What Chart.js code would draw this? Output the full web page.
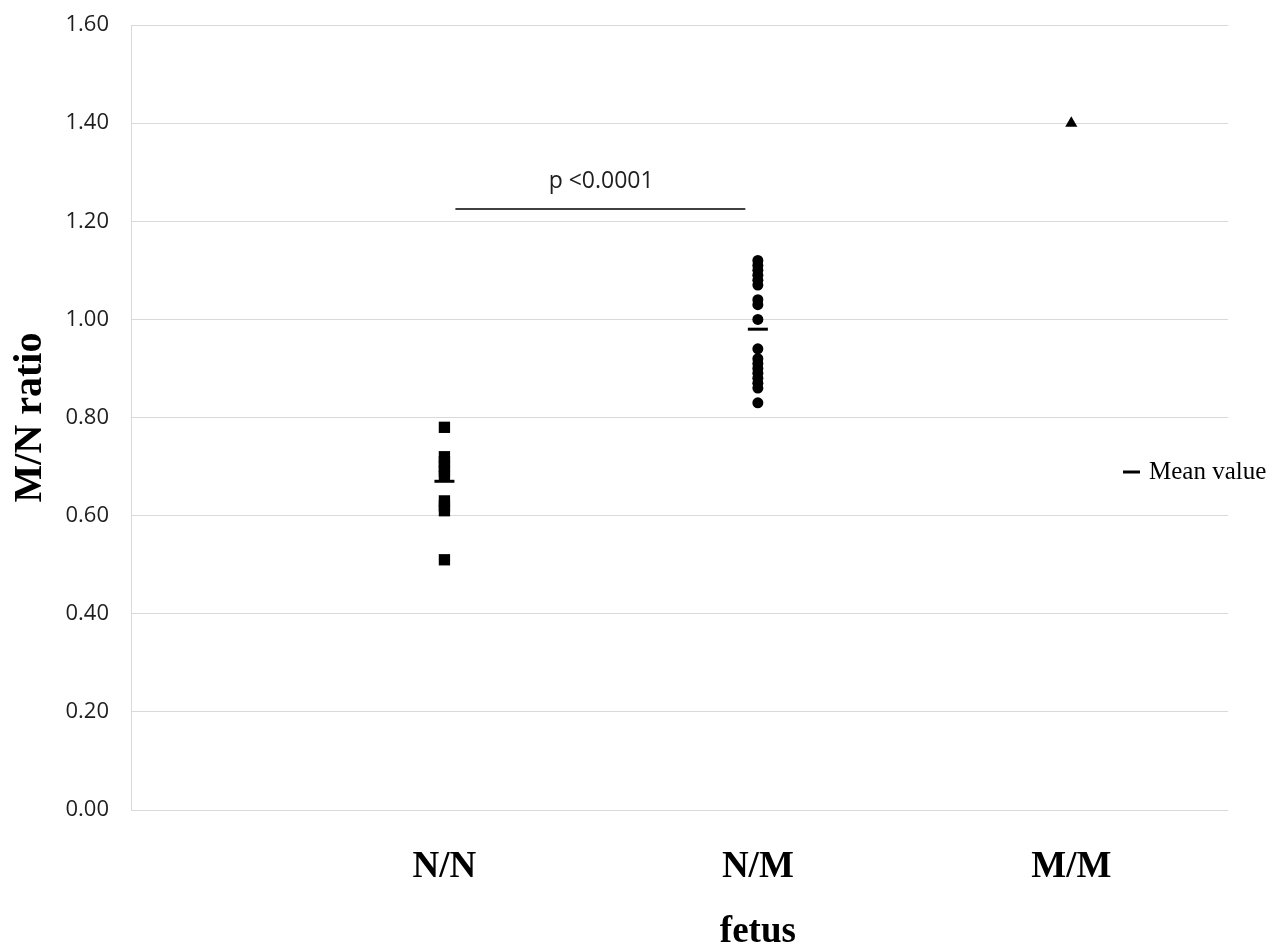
<!DOCTYPE html>
<html>
<head>
<meta charset="utf-8">
<title>M/N ratio</title>
<script src="https://cdn.jsdelivr.net/npm/chart.js@4.4.0/dist/chart.umd.min.js"></script>
<style>
  html, body { margin: 0; padding: 0; background: #fff; }
  #wrap { width: 1287px; height: 949px; }
</style>
</head>
<body>
<div id="wrap"><canvas id="myChart"></canvas></div>
<script>
// categories on the x axis (placed at 1, 2, 3)
const categories = ['N/N', ['N/M', 'fetus'], 'M/M'];

// values
const nnValues = [0.78, 0.72, 0.71, 0.70, 0.69, 0.68, 0.63, 0.62, 0.61, 0.51];
const nmValues = [1.12, 1.11, 1.10, 1.09, 1.08, 1.07, 1.04, 1.03, 1.00, 0.94, 0.92, 0.91, 0.90, 0.89, 0.88, 0.87, 0.86, 0.83];
const mmValues = [1.40];
const meanValues = [0.67, 0.98];

// significance bracket between N/N and N/M
const sigX = [1.035, 1.96];
const sigY = 1.225;
const sigText = 'p <0.0001';
const sigTextPos = [1.5, 1.282];

const yTicks = [0, 0.2, 0.4, 0.6, 0.8, 1.0, 1.2, 1.4, 1.6];

function toPoints(values, xPos) {
    var pts = [];
    values.forEach(v => {
        pts.push({ x: xPos, y: v });
    });
    return pts;
}

var meanPoints = [];
meanValues.forEach(function(v, i) {
    meanPoints.push({ x: i + 1, y: v });
});

// draws the p value text and the small "Mean value" legend
const extraText = {
    id: 'extraText',
    afterDraw(chart) {
        const ctx = chart.ctx;
        const xs = chart.scales.x;
        const ys = chart.scales.y;
        ctx.save();
        ctx.fillStyle = '#1e1e1e';
        ctx.font = '23px "Open Sans"';
        ctx.textAlign = 'center';
        ctx.textBaseline = 'middle';
        ctx.fillText(sigText, xs.getPixelForValue(sigTextPos[0]), ys.getPixelForValue(sigTextPos[1]));

        // legend
        ctx.strokeStyle = '#000';
        ctx.lineWidth = 3;
        ctx.beginPath();
        ctx.moveTo(1123, 472);
        ctx.lineTo(1140, 472);
        ctx.stroke();
        ctx.fillStyle = '#000';
        ctx.font = '25px "Liberation Serif"';
        ctx.textAlign = 'left';
        ctx.fillText('Mean value', 1149, 472);
        ctx.restore();
    }
};

const data = {
    datasets: [
        {
            label: 'Mean value',
            data: meanPoints,
            pointStyle: 'line',
            pointRadius: 10,
            pointBorderWidth: 3,
            borderColor: '#000',
            backgroundColor: '#000',
            showLine: false
        },
        {
            label: 'N/N',
            data: toPoints(nnValues, 1),
            pointStyle: 'rect',
            pointRadius: 8,
            pointBorderWidth: 0,
            borderColor: '#000',
            backgroundColor: '#000',
            showLine: false
        },
        {
            label: 'N/M',
            data: toPoints(nmValues, 2),
            pointStyle: 'circle',
            pointRadius: 5.5,
            pointBorderWidth: 0,
            borderColor: '#000',
            backgroundColor: '#000',
            showLine: false
        },
        {
            label: 'M/M',
            data: toPoints(mmValues, 3),
            pointStyle: 'triangle',
            pointRadius: 7,
            pointBorderWidth: 0,
            borderColor: '#000',
            backgroundColor: '#000',
            showLine: false
        },
        {
            label: 'bracket',
            data: [{ x: sigX[0], y: sigY }, { x: sigX[1], y: sigY }],
            showLine: true,
            borderColor: '#000',
            borderWidth: 1.3,
            pointRadius: 0
        }
    ]
};

const config = {
    type: 'scatter',
    data: data,
    options: {
        responsive: true,
        maintainAspectRatio: false,
        animation: false,
        layout: { padding: { left: 0, right: 59, top: 25, bottom: 0 } },
        plugins: {
            legend: { display: false },
            tooltip: { enabled: false }
        },
        scales: {
            x: {
                type: 'linear',
                min: 0,
                max: 3.5,
                grid: { display: false, drawTicks: false },
                border: { display: false },
                afterFit: function(scale) { scale.height = 139; },
                afterBuildTicks: function(scale) {
                    scale.ticks = categories.map((c, i) => ({ value: i + 1 }));
                },
                ticks: {
                    autoSkip: false,
                    maxRotation: 0,
                    padding: 25,
                    color: '#000',
                    font: { family: 'Liberation Serif', size: 37, weight: 'bold', lineHeight: 1.75 },
                    callback: function(value) {
                        var idx = Math.round(value) - 1;
                        return categories[idx] !== undefined ? categories[idx] : '';
                    }
                }
            },
            y: {
                min: 0,
                max: 1.6,
                afterFit: function(scale) {
                    scale.width = 131;
                    // keep the label padding from pushing the plot down
                    scale.paddingTop = 13;
                },
                afterBuildTicks: function(scale) {
                    scale.ticks = yTicks.map(v => ({ value: v }));
                },
                grid: { color: '#d9d9d9', lineWidth: 1, drawTicks: false },
                border: { display: true, color: '#d9d9d9', width: 1 },
                ticks: {
                    padding: 22,
                    color: '#1e1e1e',
                    font: { family: 'Open Sans', size: 22 },
                    callback: function(value) { return value.toFixed(2); }
                },
                title: {
                    display: true,
                    text: 'M/N ratio',
                    color: '#000',
                    padding: { top: 7, bottom: 0 },
                    font: { family: 'Liberation Serif', size: 40, weight: 'bold' }
                }
            }
        }
    },
    plugins: [extraText]
};

var myChartJS = new Chart(
    document.getElementById('myChart'),
    config
);
</script>
</body>
</html>
